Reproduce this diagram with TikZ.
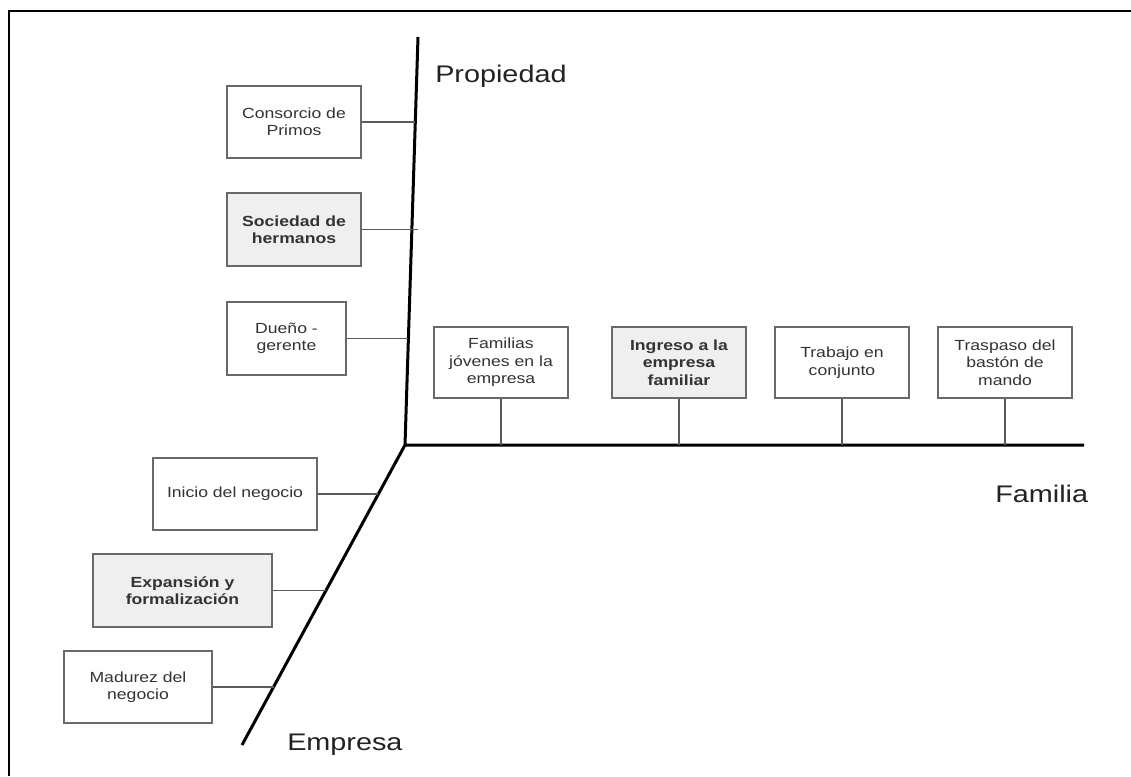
\documentclass[tikz,border=0pt]{standalone}
\usepackage{fontspec}
\setmainfont{Liberation Sans}[FakeStretch=1.2]
\usepackage{tikz}

\tikzset{
  stage/.style={draw={rgb, 255:red, 105; green, 105; blue, 105 }, line width=1pt, fill=white,
    text={rgb, 255:red, 51; green, 51; blue, 51 }, align=center, inner sep=0pt,
    font=\fontsize{11}{13.1}\selectfont},
  keystage/.style={stage, fill={rgb, 255:red, 239; green, 239; blue, 239 },
    font=\fontsize{11}{13.1}\selectfont\bfseries},
  axisline/.style={line width=2.25pt},
  tie/.style={draw={rgb, 255:red, 90; green, 90; blue, 90 }, line width=0.8pt},
  axislabel/.style={anchor=base west, inner sep=0pt, font=\fontsize{18}{21}\selectfont,
    text={rgb, 255:red, 34; green, 34; blue, 34 }}
}

\begin{document}
\begin{tikzpicture}[x=0.75pt,y=0.75pt,yscale=-1,xscale=1]
        \useasboundingbox (0,0) rectangle (1131,776);

        %Frame
        \draw [line width=1.5pt] (9,776) -- (9,11) -- (1131,11) ;

        %Axes
        \coordinate (o) at (405,445);
        \coordinate (ptop) at (418,37);
        \coordinate (fend) at (1084,445);
        \coordinate (eend) at (242,745);
        \draw [axisline] (ptop) -- (o) -- (fend) ;
        \draw [axisline] (o) -- (eend) ;

        % Axis labels
        \node [axislabel] (prop) at (435,82) {Propiedad};
        \node [axislabel] (famil) at (995,502) {Familia};
        \node [axislabel] (empr) at (287,750) {Empresa};

        %Shape: Rectangle -- Propiedad stages
        \node [stage, minimum width=100.5pt, minimum height=54pt] (cons) at (294,122) {Consorcio de\\Primos};
        \node [keystage, minimum width=100.5pt, minimum height=54.75pt] (soc) at (294,229.5) {Sociedad de\\hermanos};
        \node [stage, minimum width=89.25pt, minimum height=54.75pt] (duen) at (286.5,338.5) {Dueño -\\gerente};

        %Shape: Rectangle -- Empresa stages
        \node [stage, minimum width=123pt, minimum height=54pt] (ini) at (235,494) {Inicio del negocio};
        \node [keystage, minimum width=134.25pt, minimum height=54.75pt] (exp) at (182.5,590.5) {Expansión y\\formalización};
        \node [stage, minimum width=111pt, minimum height=54pt] (mad) at (138,687) {Madurez del\\negocio};

        %Shape: Rectangle -- Familia stages
        \node [stage, minimum width=100.5pt, minimum height=53.25pt] (fam) at (501,362.5) {Familias\\jóvenes en la\\empresa};
        \node [keystage, minimum width=100.5pt, minimum height=53.25pt] (ing) at (679,362.5) {Ingreso a la\\empresa\\familiar};
        \node [stage, minimum width=100.5pt, minimum height=53.25pt] (trab) at (842,362.5) {Trabajo en\\conjunto};
        \node [stage, minimum width=100.5pt, minimum height=53.25pt] (trasp) at (1005,362.5) {Traspaso del\\bastón de\\mando};

        %Straight Lines -- ties to the axes
        \coordinate (pc) at (415.3,122);
        \coordinate (ps) at (418,229.5);
        \coordinate (pd) at (408.4,338.5);
        \coordinate (ei) at (378.4,494);
        \coordinate (ee) at (326,590.5);
        \coordinate (em) at (273.5,687);
        \draw [tie] (cons.east) -- (pc) ;
        \draw [tie] (soc.east) -- (ps) ;
        \draw [tie] (duen.east) -- (pd) ;
        \draw [tie] (ini.east) -- (ei) ;
        \draw [tie] (exp.east) -- (ee) ;
        \draw [tie] (mad.east) -- (em) ;
        \draw [tie] (fam.south) -- (fam.south |- o) ;
        \draw [tie] (ing.south) -- (ing.south |- o) ;
        \draw [tie] (trab.south) -- (trab.south |- o) ;
        \draw [tie] (trasp.south) -- (trasp.south |- o) ;

    \end{tikzpicture}
\end{document}
